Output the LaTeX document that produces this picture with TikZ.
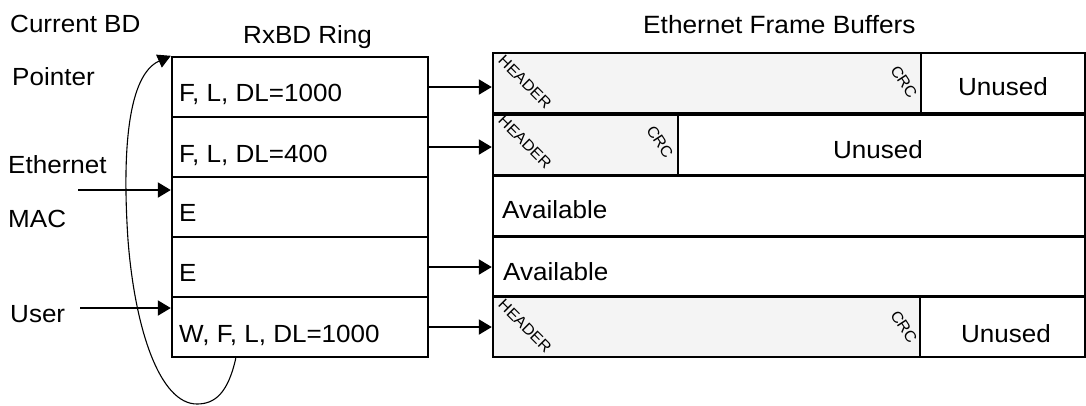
\documentclass[tikz,border=0pt]{standalone}
\usepackage{fontspec}
\setmainfont{Liberation Sans}[FakeStretch=1.05]
\usetikzlibrary{arrows.meta,calc}
\definecolor{bgrey}{HTML}{F4F4F4}
\tikzset{
  lbl/.style={inner sep=0pt, anchor=base west, font=\fontsize{24.8}{28}\selectfont},
  ctr/.style={inner sep=0pt, anchor=base, font=\fontsize{24.8}{28}\selectfont},
  tiny/.style={inner sep=0pt, font=\fontsize{15.5}{17}\selectfont},
  ringrow/.style={draw, line width=2.4pt, minimum width=256pt, minimum height=60pt, inner sep=0pt},
  bufbox/.style={draw, line width=2.4pt, minimum height=60pt, inner sep=0pt},
  greybox/.style={bufbox, fill=bgrey},
  arr/.style={line width=2pt, -{Triangle[length=13pt,width=15pt]}},
  curv/.style={line width=1.1pt, -{Triangle[length=13pt,width=14pt]}}
}
\begin{document}
\begin{tikzpicture}[x=1pt,y=-1pt]
\useasboundingbox (0,0) rectangle (1086,405);
% titles
\node[lbl] (tcur) at (10,32) {Current BD};
\node[lbl] (tptr) at (12,85) {Pointer};
\node[lbl] (tring) at (243,43) {RxBD Ring};
\node[lbl, font=\fontsize{25}{29}\selectfont] (tbuf) at (643,33) {Ethernet Frame Buffers};
\node[lbl] (teth) at (8,173) {Ethernet};
\node[lbl] (tmac) at (8,227) {MAC};
\node[lbl] (tusr) at (10,322) {User};
% ring
\node[ringrow] (r1) at (300,87) {};
\node[ringrow] (r2) at (300,147) {};
\node[ringrow] (r3) at (300,207) {};
\node[ringrow] (r4) at (300,267) {};
\node[ringrow] (r5) at (300,327) {};
\node[lbl] at (179,101) {F, L, DL=1000};
\node[lbl] at (179,162) {F, L, DL=400};
\node[lbl] at (179,221) {E};
\node[lbl] at (179,281) {E};
\node[lbl] at (179,342) {W, F, L, DL=1000};
% buffers
\node[bufbox, minimum width=592pt] (b1) at (789,83) {};
\node[greybox, minimum width=428pt] (g1) at (707,83) {};
\node[ctr] at (1003,95) {Unused};
\node[bufbox, minimum width=592pt] (b2) at (789,145) {};
\node[greybox, minimum width=185pt] (g2) at (585.5,145) {};
\node[ctr] at (878,158) {Unused};
\node[bufbox, minimum width=592pt] (b3) at (789,206) {};
\node[lbl] at (502,218) {Available};
\node[bufbox, minimum width=592pt] (b4) at (789,266.5) {};
\node[lbl] at (503,280) {Available};
\node[bufbox, minimum width=592pt] (b5) at (789,327) {};
\node[greybox, minimum width=427pt] (g5) at (706.5,327) {};
\node[ctr] at (1006,342) {Unused};
% header / crc labels
\node[tiny, rotate=-45] at (525,82) {HEADER};
\node[tiny, rotate=-57] at (904,82) {CRC};
\node[tiny, rotate=-45] at (525,142) {HEADER};
\node[tiny, rotate=-57] at (660,142) {CRC};
\node[tiny, rotate=-45] at (525,326) {HEADER};
\node[tiny, rotate=-57] at (904,327) {CRC};
% connectors
\draw[arr] (r1.east) -- (r1.east -| b1.west);
\draw[arr] (r2.east) -- (r2.east -| b2.west);
\draw[arr] (r4.east) -- (r4.east -| b4.west);
\draw[arr] (r5.east) -- (r5.east -| b5.west);
\coordinate (eth) at (78,190);
\coordinate (usr) at (80,308);
\draw[arr] (eth) -- (eth -| r3.west);
\draw[arr] (usr) -- (usr -| r5.west);
\coordinate (cstart) at ($(r5.south west)+(65,0)$);
\draw[curv] (cstart) .. controls (228,393) and (215,404) .. (197,404)
  .. controls (160,404) and (135,330) .. (128,240)
  .. controls (122,150) and (128,75) .. (r1.north west);
\end{tikzpicture}
\end{document}
